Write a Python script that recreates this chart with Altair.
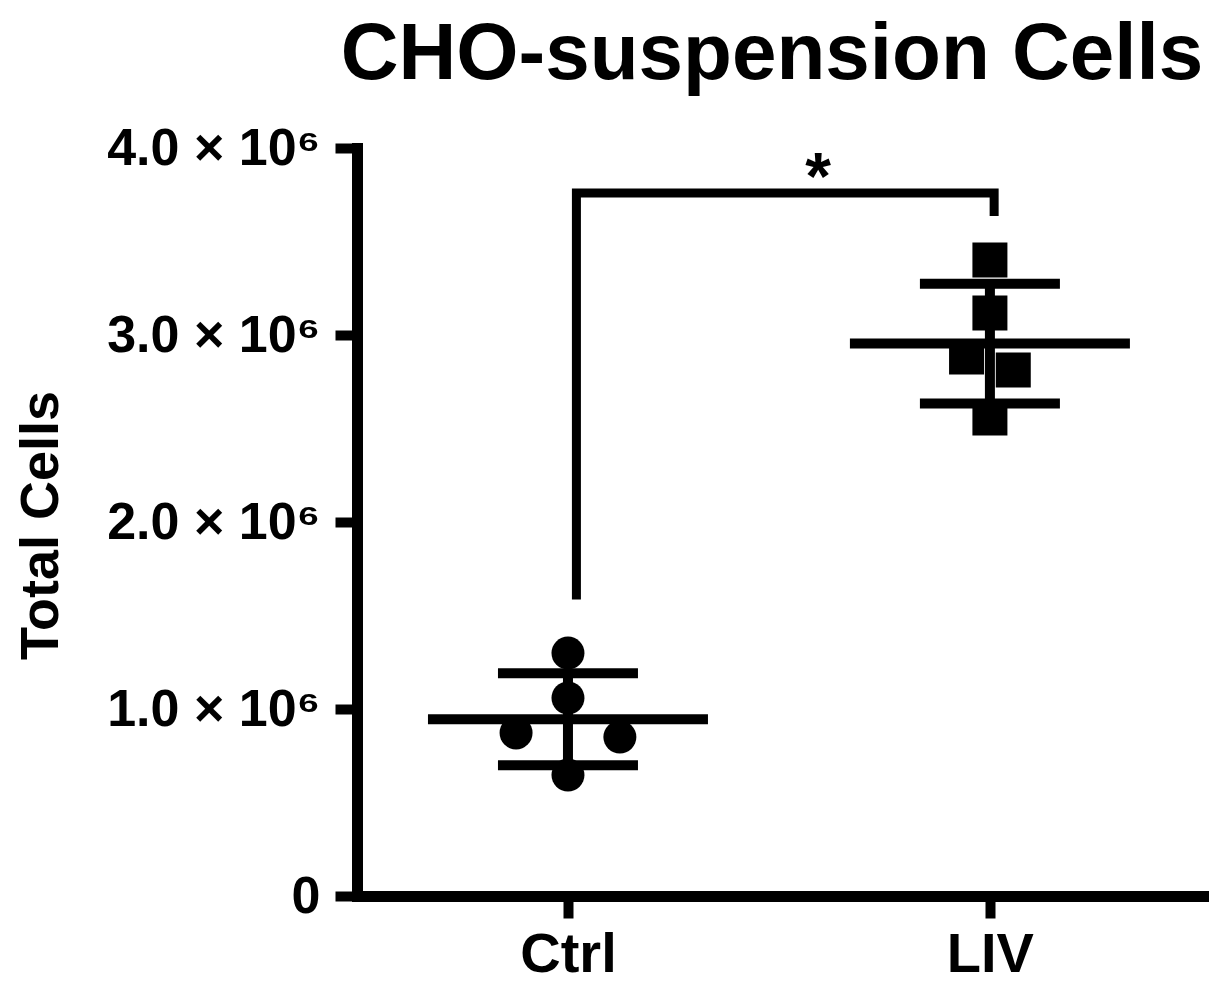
import altair as alt
import pandas as pd

# ---- data ----
ctrl_values = [1.299e6, 1.059e6, 0.872e6, 0.850e6, 0.647e6]
liv_values = [3.401e6, 3.118e6, 2.882e6, 2.813e6, 2.556e6]
# horizontal slot of each dot inside its column (scatter-dot layout)
ctrl_slots = [0, 0, -1, 1, 0]
liv_slots = [0, 0, -0.45, 0.45, 0]
group_names = ["Ctrl", "LIV"]
y_ticks = [0, 1e6, 2e6, 3e6, 4e6]

# significance bracket (data units)
bracket_x = [0.02, 0.02, 1.01, 1.01]
bracket_y = [1.61e6, 3.76e6, 3.76e6, 3.66e6]
star_x = [0.593]
star_y = [3.92e6]
star_text = ["*"]

SLOT_W = 0.123
FONT = "Liberation Sans"

df = pd.DataFrame({
    "group": ["Ctrl"] * len(ctrl_values) + ["LIV"] * len(liv_values),
    "gi": [0] * len(ctrl_values) + [1] * len(liv_values),
    "value": ctrl_values + liv_values,
    "slot": ctrl_slots + liv_slots,
})
br = pd.DataFrame({"bx": bracket_x, "by": bracket_y, "ord": list(range(len(bracket_x)))})
st = pd.DataFrame({"sx": star_x, "sy": star_y, "t": star_text})

xscale = alt.Scale(domain=[-0.5, 1.505], nice=False, zero=False)
yscale = alt.Scale(domain=[0, 4e6], nice=False, zero=True)
xaxis = alt.Axis(values=[0, 1], labelExpr="datum.value == 0 ? 'Ctrl' : 'LIV'",
                 title=None, labelFontSize=56, labelPadding=9)
yaxis = alt.Axis(values=y_ticks,
                 labelExpr="datum.value == 0 ? '0' : format(datum.value/1e6, '.1f') + ' × 10⁶'",
                 title="Total Cells", labelFontSize=52, labelPadding=15, labelLimit=0,
                 titleFontSize=54, titleAngle=270, titleAlign="center",
                 titleBaseline="alphabetic", titleX=-300, titleY=377)


def xenc(f):
    return alt.X(f"{f}:Q", scale=xscale, axis=xaxis)


def yenc(f):
    return alt.Y(f"{f}:Q", scale=yscale, axis=yaxis)


base = alt.Chart(df)

points = base.transform_calculate(
    xpos=f"datum.gi + datum.slot * {SLOT_W}"
).mark_point(filled=True, opacity=1, color="black").encode(
    x=xenc("xpos"),
    y=yenc("value"),
    shape=alt.Shape("group:N", scale=alt.Scale(domain=group_names, range=["circle", "square"]), legend=None),
    size=alt.Size("group:N", scale=alt.Scale(domain=group_names, range=[1089, 1225]), legend=None),
)

stats = base.transform_aggregate(
    m="mean(value)", sd="stdev(value)", groupby=["group", "gi"]
).transform_calculate(lo="datum.m - datum.sd", hi="datum.m + datum.sd")

mean_tick = stats.mark_tick(orient="horizontal", size=280, thickness=10, color="black", opacity=1).encode(
    x=xenc("gi"), y=yenc("m"))
lo_tick = stats.mark_tick(orient="horizontal", size=140, thickness=10, color="black", opacity=1).encode(
    x=xenc("gi"), y=yenc("lo"))
hi_tick = stats.mark_tick(orient="horizontal", size=140, thickness=10, color="black", opacity=1).encode(
    x=xenc("gi"), y=yenc("hi"))
vrule = stats.mark_rule(strokeWidth=10, color="black").encode(
    x=xenc("gi"), y=yenc("lo"), y2=alt.Y2("hi:Q"))

bracket = alt.Chart(br).mark_line(color="black", strokeWidth=9, strokeJoin="miter", strokeCap="square").encode(
    x=xenc("bx"), y=yenc("by"), order="ord:Q")

star = alt.Chart(st).mark_text(font=FONT, fontWeight="bold", fontSize=66, color="black",
                               baseline="alphabetic", align="center", dy=36).encode(
    x=xenc("sx"), y=yenc("sy"), text="t:N")

chart = alt.layer(points, mean_tick, lo_tick, hi_tick, vrule, bracket, star).properties(
    width=846, height=748,
    autosize="none",
    padding={"left": 349, "top": 140, "right": 10, "bottom": 88},
    title=alt.TitleParams("CHO-suspension Cells", font=FONT, fontSize=80, fontWeight="bold",
                          color="black", anchor="middle", offset=26, dx=-8),
    background="white",
).configure_axis(
    domainColor="black", domainWidth=11, domainCap="square",
    tickColor="black", tickWidth=10, tickSize=22,
    labelFont=FONT, labelFontWeight="bold", labelColor="black",
    titleFont=FONT, titleFontWeight="bold", titleColor="black",
    grid=False,
).configure_view(stroke=None)

chart.save("out.html", embed_options={"renderer": "svg", "actions": False})
